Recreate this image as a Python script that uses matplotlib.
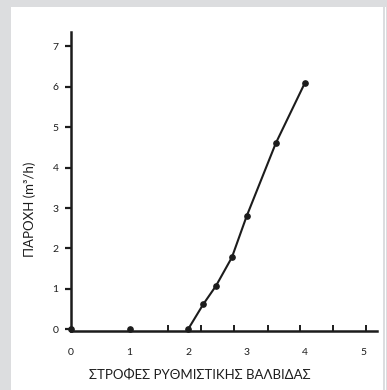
import numpy as np
import matplotlib
matplotlib.use("Agg")
import matplotlib.pyplot as plt
from matplotlib.patches import Rectangle

# values
turns = [0, 1, 2, 2.26, 2.48, 2.75, 3.0, 3.5, 4.0]
flow = [0, 0, 0, 0.62, 1.08, 1.78, 2.79, 4.6, 6.1]
line_from = 2  # the line starts at the third point
x_labels = [0, 1, 2, 3, 4, 5]
y_labels = [0, 1, 2, 3, 4, 5, 6, 7]
x_marks = [1.66, 2.23, 2.79, 3.36, 3.92, 4.48, 5.04]

ink = "#1c1c1c"
plt.rcParams['font.family'] = ['Lato', 'DejaVu Sans']

fig = plt.figure(figsize=(3.87, 3.90), dpi=100)
fig.patch.set_facecolor("#dcdddf")
W, H = 387.0, 390.0
fig.patches.append(Rectangle((11 / W, 0), (383 - 11) / W, (390 - 7) / H,
                             transform=fig.transFigure, facecolor="white",
                             edgecolor="none", zorder=-2))
fig.patches.append(Rectangle((385 / W, 0), 1 / W, (390 - 7) / H,
                             transform=fig.transFigure, facecolor="white",
                             edgecolor="none", zorder=-2))

ax = fig.add_axes([71 / W, (390 - 331) / H, (377 - 71) / W, (331 - 32) / H])
ax.set_facecolor("none")
ax.set_zorder(1)
ax.set_xlim(0, 5.23)
ax.set_ylim(-0.04, 7.35)

ax.plot(turns[line_from:], flow[line_from:], color=ink, lw=1.5, zorder=3)
ax.plot(turns, flow, 'o', color=ink, markersize=3.8, zorder=4, clip_on=False)

for s in ['top', 'right']:
    ax.spines[s].set_visible(False)
for s in ['left', 'bottom']:
    ax.spines[s].set_linewidth(1.8)
    ax.spines[s].set_color(ink)

ax.set_xticks(x_labels)
ax.set_xticks(x_marks, minor=True)
ax.set_yticks(y_labels)
ax.set_xticklabels([str(v) for v in x_labels])
ax.set_yticklabels([str(v) for v in y_labels])
ax.tick_params(axis='x', which='major', length=0, pad=12, labelsize=7.5,
               labelcolor=ink)
ax.tick_params(axis='x', which='minor', direction='in', length=4, width=1.4,
               color=ink)
ax.tick_params(axis='y', direction='out', length=4, width=1.6, color=ink,
               pad=5, labelsize=7.5, labelcolor=ink)

fig.text(200 / W, 1 - 375 / H, "ΣΤΡΟΦΕΣ ΡΥΘΜΙΣΤΙΚΗΣ ΒΑΛΒΙΔΑΣ", ha='center',
         va='center', fontsize=9.5, color=ink)
fig.text(30 / W, 1 - 209 / H, "ΠΑΡΟΧΗ (m³/h)", ha='center', va='center',
         rotation=90, fontsize=9.5, color=ink)

fig.savefig("out.png", dpi=100)
